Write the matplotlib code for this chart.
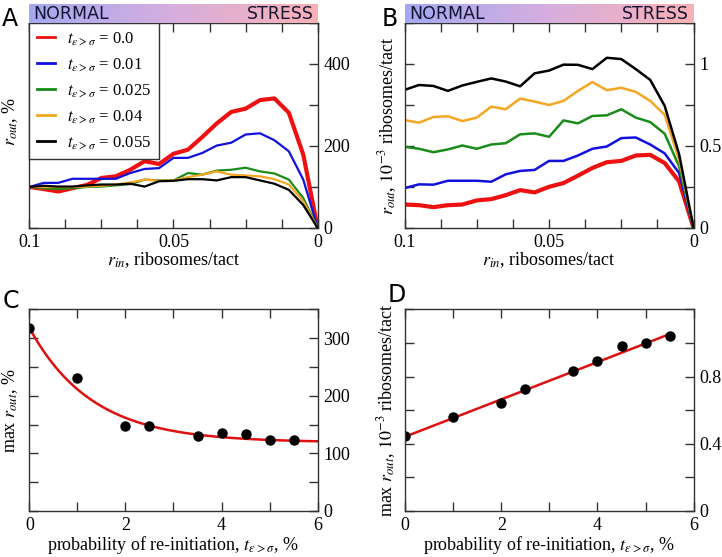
import numpy as np
import matplotlib
matplotlib.use("Agg")
import matplotlib.pyplot as plt
from matplotlib.ticker import MultipleLocator, FixedLocator
from matplotlib.colors import LinearSegmentedColormap

plt.rcParams['font.family'] = 'Liberation Serif'
plt.rcParams['mathtext.fontset'] = 'stix'

# initiation rate grid (x axis of A and B)
r_in = np.linspace(0.1, 0.0, 21)

t_labels = ["0.0", "0.01", "0.025", "0.04", "0.055"]
colors = ["#ee1111", "#1111dd", "#1a8c1a", "#f5a623", "#000000"]

# panel A: r_out relative to r_in=0.1, %
rout_pct_00 = [100, 95, 89, 97, 105, 122, 126, 142, 163, 156, 181, 191, 222, 255, 283, 291, 312, 316, 281, 179, 0]
rout_pct_01 = [100, 110, 110, 120, 120, 120, 120, 134, 144, 146, 171, 171, 183, 201, 208, 228, 231, 214, 187, 118, 0]
rout_pct_025 = [100, 97, 95, 97, 100, 101, 104, 107, 118, 116, 116, 134, 130, 140, 142, 147, 138, 133, 118, 73, 0]
rout_pct_04 = [100, 100, 100, 100, 101, 103, 106, 111, 118, 115, 116, 124, 130, 138, 130, 128, 126, 119, 106, 65, 0]
rout_pct_055 = [100, 103, 101, 101, 104, 106, 106, 108, 101, 114, 115, 119, 119, 116, 124, 124, 116, 108, 93, 56, 0]

# panel B: r_out, 10^-3 ribosomes/tact
rout_abs_00 = [0.143, 0.139, 0.127, 0.139, 0.143, 0.168, 0.176, 0.200, 0.231, 0.217, 0.251, 0.274, 0.319, 0.366, 0.401, 0.409, 0.442, 0.446, 0.396, 0.284, 0]
rout_abs_01 = [0.243, 0.266, 0.264, 0.288, 0.288, 0.288, 0.282, 0.327, 0.348, 0.354, 0.409, 0.409, 0.442, 0.483, 0.497, 0.548, 0.552, 0.509, 0.455, 0.335, 0]
rout_abs_025 = [0.495, 0.483, 0.462, 0.479, 0.503, 0.483, 0.509, 0.517, 0.571, 0.577, 0.556, 0.656, 0.638, 0.683, 0.687, 0.724, 0.673, 0.646, 0.575, 0.376, 0]
rout_abs_04 = [0.658, 0.642, 0.677, 0.681, 0.652, 0.673, 0.740, 0.724, 0.789, 0.771, 0.750, 0.775, 0.836, 0.890, 0.840, 0.855, 0.830, 0.775, 0.690, 0.417, 0]
rout_abs_055 = [0.842, 0.872, 0.866, 0.836, 0.869, 0.891, 0.912, 0.893, 0.864, 0.943, 0.960, 0.996, 0.995, 0.969, 1.038, 1.030, 0.969, 0.903, 0.745, 0.450, 0]

# panels C and D: maximum of r_out vs re-initiation probability
t_prob = [0, 1, 2, 2.5, 3.5, 4, 4.5, 5, 5.5]
max_pct = [318, 230, 148, 147, 130, 135, 133, 123, 124]
max_abs = [0.447, 0.557, 0.643, 0.725, 0.830, 0.893, 0.980, 1.000, 1.044]

# fitted curves
c_fit_a, c_fit_b, c_fit_tau = 119.0, 199.0, 1.3
d_fit_icpt, d_fit_slope = 0.442, 0.111

pct_series = [rout_pct_00, rout_pct_01, rout_pct_025, rout_pct_04, rout_pct_055]
abs_series = [rout_abs_00, rout_abs_01, rout_abs_025, rout_abs_04, rout_abs_055]

fig = plt.figure(figsize=(7.22, 5.57), dpi=100)

axA = fig.add_axes([0.0406, 0.5907, 0.3994, 0.368])
axB = fig.add_axes([0.5603, 0.5907, 0.4003, 0.368])
axC = fig.add_axes([0.0406, 0.0826, 0.3994, 0.3621])
axD = fig.add_axes([0.561, 0.0826, 0.3998, 0.3621])

spine_col = "#333333"


def style(ax):
    for s in ax.spines.values():
        s.set_color(spine_col)
        s.set_linewidth(1.0)
    ax.tick_params(which='both', direction='in', top=True, bottom=True,
                   left=True, right=True, labelleft=False, labelright=True,
                   length=6.5, width=1, colors=spine_col, labelcolor='black',
                   labelsize=13, pad=4)


# gradient bars above A and B
grad_cmap = LinearSegmentedColormap.from_list("ns", ["#a3a9f2", "#d7aede", "#f9b1b5"])
grad = np.linspace(0, 1, 256).reshape(1, -1)
for left in (0.0406, 0.5603):
    gax = fig.add_axes([left, 0.9587, 0.4, 0.034])
    gax.imshow(grad, aspect='auto', cmap=grad_cmap, extent=[0, 1, 0, 1])
    gax.set_axis_off()
    gax.text(0.015, 0.45, "NORMAL", family='DejaVu Sans', fontsize=12.5,
             color='#141430', va='center', ha='left')
    gax.text(0.985, 0.45, "STRESS", family='DejaVu Sans', fontsize=12.5,
             color='#141430', va='center', ha='right')

# A
for vals, col, lab in zip(pct_series, colors, t_labels):
    lw = 3.0 if lab == "0.0" else 1.6
    axA.plot(r_in, vals, color=col, lw=lw,
             label=r"$t_{\varepsilon>\sigma}$ = " + lab)
axA.set_xlim(0.1, 0)
axA.set_ylim(0, 500)
axA.xaxis.set_major_locator(FixedLocator([0.1, 0.05, 0]))
axA.set_xticklabels(["0.1", "0.05", "0"])
axA.xaxis.set_minor_locator(MultipleLocator(0.0125))
axA.yaxis.set_major_locator(FixedLocator([0, 200, 400]))
axA.yaxis.set_minor_locator(MultipleLocator(100))
style(axA)
axA.set_xlabel(r"$r_{in}$, ribosomes/tact", fontsize=13, labelpad=0)
axA.set_ylabel(r"$r_{out}$, %", fontsize=13)
axA.yaxis.set_label_coords(-0.032, 0.52)
leg = axA.legend(loc='upper left', bbox_to_anchor=(0, 1), borderaxespad=0,
                 fontsize=12, fancybox=False, edgecolor='#333333',
                 framealpha=1, handlelength=1.1, labelspacing=0.52,
                 borderpad=0.45, handletextpad=0.7)
leg.get_frame().set_linewidth(1.0)
for h in leg.get_lines():
    h.set_linewidth(2.0)

# B
for vals, col, lab in zip(abs_series, colors, t_labels):
    lw = 3.0 if lab == "0.0" else 1.8
    axB.plot(r_in, vals, color=col, lw=lw)
axB.set_xlim(0.1, 0)
axB.set_ylim(0, 1.25)
axB.xaxis.set_major_locator(FixedLocator([0.1, 0.05, 0]))
axB.set_xticklabels(["0.1", "0.05", "0"])
axB.xaxis.set_minor_locator(MultipleLocator(0.0125))
axB.yaxis.set_major_locator(FixedLocator([0, 0.5, 1]))
axB.set_yticklabels(["0", "0.5", "1"])
axB.yaxis.set_minor_locator(MultipleLocator(0.25))
style(axB)
axB.set_xlabel(r"$r_{in}$, ribosomes/tact", fontsize=13, labelpad=0)
axB.set_ylabel(r"$r_{out}$, $10^{-3}$ ribosomes/tact", fontsize=13)
axB.yaxis.set_label_coords(-0.019, 0.5)

# C
xc = np.linspace(0, 6, 200)
axC.plot(xc, c_fit_a + c_fit_b * np.exp(-xc / c_fit_tau), color='#dd1111', lw=1.8)
axC.plot(t_prob, max_pct, 'o', color='black', ms=6.5)
axC.set_xlim(0, 6)
axC.set_ylim(0, 350)
axC.xaxis.set_major_locator(MultipleLocator(2))
axC.xaxis.set_minor_locator(MultipleLocator(1))
axC.yaxis.set_major_locator(MultipleLocator(100))
axC.yaxis.set_minor_locator(MultipleLocator(50))
style(axC)
axC.set_xlabel(r"probability of re-initiation, $t_{\varepsilon>\sigma}$, %", fontsize=13, labelpad=0)
axC.set_ylabel(r"max $r_{out}$, %", fontsize=13)
axC.yaxis.set_label_coords(-0.032, 0.5)

# D
xd = np.linspace(0, 5.5, 50)
axD.plot(xd, d_fit_icpt + d_fit_slope * xd, color='#dd1111', lw=1.8)
axD.plot(t_prob, max_abs, 'o', color='black', ms=6.5)
axD.set_xlim(0, 6)
axD.set_ylim(0, 1.2)
axD.xaxis.set_major_locator(MultipleLocator(2))
axD.xaxis.set_minor_locator(MultipleLocator(1))
axD.yaxis.set_major_locator(FixedLocator([0, 0.4, 0.8]))
axD.set_yticklabels(["0", "0.4", "0.8"])
axD.yaxis.set_minor_locator(MultipleLocator(0.2))
style(axD)
axD.set_xlabel(r"probability of re-initiation, $t_{\varepsilon>\sigma}$, %", fontsize=13, labelpad=0)
axD.set_ylabel(r"max $r_{out}$, $10^{-3}$ ribosomes/tact", fontsize=13)
axD.yaxis.set_label_coords(-0.026, 0.5)

# panel letters
for txt, x, y in [("A", 0.003, 0.988), ("B", 0.529, 0.988),
                  ("C", 0.003, 0.482), ("D", 0.537, 0.492)]:
    fig.text(x, y, txt, family='DejaVu Sans', fontsize=17, va='top', ha='left')

fig.savefig("out.png", dpi=100)
